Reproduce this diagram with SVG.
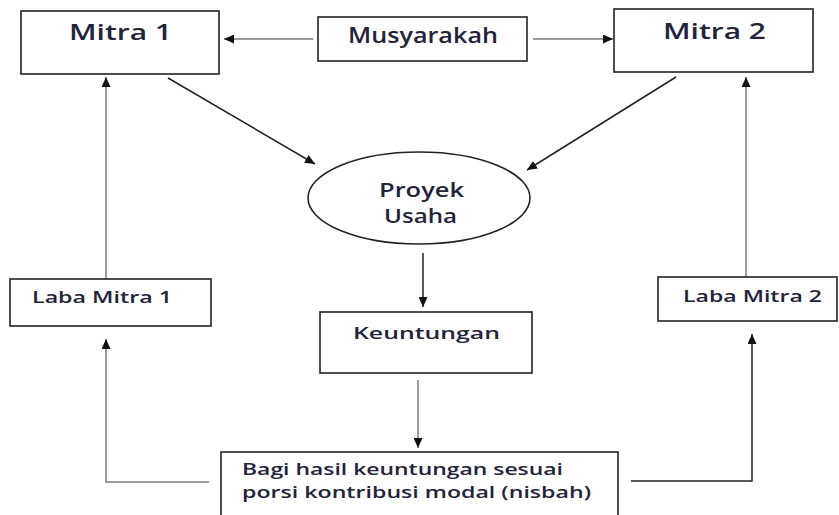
<svg xmlns="http://www.w3.org/2000/svg" width="839" height="515" viewBox="0 0 839 515">
  <defs>
    <marker id="arrow" markerUnits="userSpaceOnUse" markerWidth="11" markerHeight="9" refX="10" refY="4.5" orient="auto">
      <path d="M0,0 L10,4.5 L0,9 z" fill="#111"/>
    </marker>
  </defs>
  <style>
    .box { fill: #fff; stroke: #222; stroke-width: 1.6; }
    .lbl { font-family: "Open Sans", "Liberation Sans", sans-serif; font-weight: 600; fill: #23233a; }
    .big { font-size: 21px; }
    .ell { font-size: 20px; }
    .mid { font-size: 17px; }
    .sm { font-size: 16px; }
    .edge { fill: none; stroke: #7a7a7a; stroke-width: 1.5; marker-end: url(#arrow); }
    .dark { stroke: #222; }
  </style>
  <rect width="839" height="515" fill="#fff"/>

  <g id="connectors">
    <line class="edge" x1="313" y1="39" x2="224" y2="39"/>
    <line class="edge" x1="533" y1="39" x2="613" y2="39"/>
    <line class="edge dark" x1="168" y1="78" x2="315" y2="164"/>
    <line class="edge dark" x1="676" y1="77" x2="527" y2="170"/>
    <line class="edge dark" x1="423" y1="253" x2="423" y2="307"/>
    <line class="edge" x1="418" y1="380" x2="418" y2="448"/>
    <line class="edge" x1="106" y1="279" x2="106" y2="77"/>
    <line class="edge" x1="746" y1="277" x2="746" y2="77"/>
    <polyline class="edge" points="209,482 106,482 106,339"/>
    <polyline class="edge dark" points="631,481 752,481 752,334"/>
  </g>

  <g id="mitra1">
    <rect class="box" x="21" y="11" width="198" height="63"/>
    <text class="lbl big" x="69" y="40" textLength="103" lengthAdjust="spacingAndGlyphs">Mitra 1</text>
  </g>
  <g id="musyarakah">
    <rect class="box" x="318" y="17" width="209" height="44"/>
    <text class="lbl big" x="348" y="43" textLength="150" lengthAdjust="spacingAndGlyphs">Musyarakah</text>
  </g>
  <g id="mitra2">
    <rect class="box" x="614" y="9" width="199" height="63"/>
    <text class="lbl big" x="663" y="39" textLength="103" lengthAdjust="spacingAndGlyphs">Mitra 2</text>
  </g>
  <g id="proyek">
    <ellipse class="box" cx="419" cy="198" rx="111" ry="46"/>
    <text class="lbl ell" x="379" y="197" textLength="85" lengthAdjust="spacingAndGlyphs">Proyek</text>
    <text class="lbl ell" x="384" y="223" textLength="73" lengthAdjust="spacingAndGlyphs">Usaha</text>
  </g>
  <g id="keuntungan">
    <rect class="box" x="320" y="312" width="212" height="61"/>
    <text class="lbl mid" x="353" y="339" textLength="147" lengthAdjust="spacingAndGlyphs">Keuntungan</text>
  </g>
  <g id="laba1">
    <rect class="box" x="10" y="279" width="201" height="47"/>
    <text class="lbl sm" x="32" y="303" textLength="140" lengthAdjust="spacingAndGlyphs">Laba Mitra 1</text>
  </g>
  <g id="laba2">
    <rect class="box" x="658" y="277" width="179" height="44"/>
    <text class="lbl sm" x="683" y="302" textLength="139" lengthAdjust="spacingAndGlyphs">Laba Mitra 2</text>
  </g>
  <g id="bagi">
    <rect class="box" x="221" y="452" width="397" height="70"/>
    <text class="lbl sm" x="242" y="475" textLength="321" lengthAdjust="spacingAndGlyphs">Bagi hasil keuntungan sesuai</text>
    <text class="lbl sm" x="242" y="498" textLength="349" lengthAdjust="spacingAndGlyphs">porsi kontribusi modal (nisbah)</text>
  </g>
</svg>
